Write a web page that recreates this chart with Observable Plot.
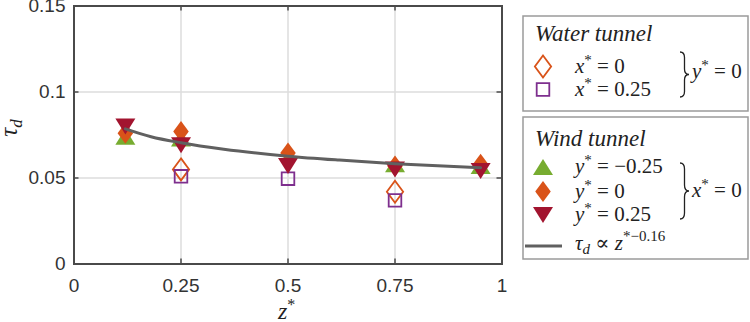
<!DOCTYPE html>
<html>
<head>
<meta charset="utf-8">
<script src="https://cdn.jsdelivr.net/npm/d3@7"></script>
<script src="https://cdn.jsdelivr.net/npm/@observablehq/plot@0.6"></script>
<style>
  html, body { margin: 0; padding: 0; background: #fff; }
  #wrap { position: relative; width: 750px; height: 322px; overflow: hidden; background: #fff; }
  #wrap > svg { position: absolute; left: 0; top: 0; }
  #wrap text.m { font-family: "Liberation Serif", "Times New Roman", "DejaVu Serif", serif !important; }
</style>
</head>
<body>
<div id="wrap"></div>
<script>
// ---- data ----
const xTicks = [0, 0.25, 0.5, 0.75, 1];
const yTicks = [0, 0.05, 0.1, 0.15];

// Water tunnel, y* = 0
const waterX0Z = [0.25, 0.75];
const waterX0Tau = [0.055, 0.042];
const waterX025Z = [0.25, 0.5, 0.75];
const waterX025Tau = [0.051, 0.0496, 0.037];

// Wind tunnel, x* = 0
const windYm025Z = [0.12, 0.25, 0.75, 0.95];
const windYm025Tau = [0.074, 0.073, 0.058, 0.057];
const windY0Z = [0.12, 0.25, 0.5, 0.75, 0.95];
const windY0Tau = [0.076, 0.077, 0.0645, 0.057, 0.058];
const windY025Z = [0.12, 0.25, 0.5, 0.75, 0.95];
const windY025Tau = [0.080, 0.069, 0.057, 0.055, 0.054];

// Fit curve tau_d ∝ z*^-0.16
const fitZ = [0.12, 0.18, 0.25, 0.35, 0.5, 0.62, 0.75, 0.85, 0.95];
const fitTau = [0.0786, 0.0740, 0.0705, 0.0667, 0.0627, 0.0604, 0.0583, 0.0571, 0.0560];

const colors = { green: "#77AC30", orange: "#D95319", red: "#A2142F", purple: "#7E2F8E", fit: "#606060" };

// ---- marker shapes ----
const rad = s => Math.sqrt(s / Math.PI);
const triUp = { draw(c, s) { const r = rad(s); c.moveTo(0, -0.8 * r); c.lineTo(r, 0.8 * r); c.lineTo(-r, 0.8 * r); c.closePath(); } };
const triDown = { draw(c, s) { const r = rad(s); c.moveTo(0, 0.8 * r); c.lineTo(r, -0.8 * r); c.lineTo(-r, -0.8 * r); c.closePath(); } };
const diamond = { draw(c, s) { const r = rad(s); c.moveTo(0, -r); c.lineTo(0.74 * r, 0); c.lineTo(0, r); c.lineTo(-0.74 * r, 0); c.closePath(); } };
const square = { draw(c, s) { const r = rad(s); const h = 0.6 * r; c.moveTo(-h, -h); c.lineTo(h, -h); c.lineTo(h, h); c.lineTo(-h, h); c.closePath(); } };

const pts = (zs, ts) => zs.map((z, i) => ({ z, tau: ts[i] }));

const W = 750, H = 322;
const mL = 73.5, mR = 248.5, mT = 5.5, mB = 58.5;
const innerW = W - mL - mR, innerH = H - mT - mB;
const axisColor = "#4a4a4a";
const gridColor = "#dddddd";

const chart = Plot.plot({
  width: W,
  height: H,
  marginLeft: mL,
  marginRight: mR,
  marginTop: mT,
  marginBottom: mB,
  style: { fontFamily: "Liberation Sans, Arial, sans-serif", fontSize: "19px", color: "#333", background: "#fff" },
  x: { domain: [0, 1] },
  y: { domain: [0, 0.15] },
  marks: [
    Plot.gridX([0.25, 0.5, 0.75], { stroke: gridColor, strokeOpacity: 1, strokeWidth: 1.5 }),
    Plot.gridY([0.05, 0.1], { stroke: gridColor, strokeOpacity: 1, strokeWidth: 1.5 }),
    Plot.axisX({ ticks: xTicks, tickSize: 0, tickPadding: 14.5, tickFormat: d => String(d), label: null, fontSize: 19, fill: "#333" }),
    Plot.axisY({ ticks: yTicks, tickSize: 0, tickPadding: 8.5, tickFormat: d => String(d), label: null, fontSize: 19, fill: "#333" }),
    // inward ticks on all four sides
    Plot.tickX(xTicks, { x: d => d, insetTop: innerH - 5, stroke: axisColor, strokeWidth: 1.5 }),
    Plot.tickX(xTicks, { x: d => d, insetBottom: innerH - 5, stroke: axisColor, strokeWidth: 1.5 }),
    Plot.tickY(yTicks, { y: d => d, insetRight: innerW - 5, stroke: axisColor, strokeWidth: 1.5 }),
    Plot.tickY(yTicks, { y: d => d, insetLeft: innerW - 5, stroke: axisColor, strokeWidth: 1.5 }),
    // data
    Plot.dot(pts(waterX0Z, waterX0Tau), { x: "z", y: "tau", symbol: diamond, r: 11, fill: "none", stroke: colors.orange, strokeWidth: 1.8 }),
    Plot.dot(pts(waterX025Z, waterX025Tau), { x: "z", y: "tau", symbol: square, r: 10.5, fill: "none", stroke: colors.purple, strokeWidth: 1.8 }),
    Plot.dot(pts(windYm025Z, windYm025Tau), { x: "z", y: "tau", symbol: triUp, r: 10, fill: colors.green, stroke: "none" }),
    Plot.dot(pts(windY0Z, windY0Tau), { x: "z", y: "tau", symbol: diamond, r: 10.5, fill: colors.orange, stroke: "none" }),
    Plot.dot(pts(windY025Z, windY025Tau), { x: "z", y: "tau", symbol: triDown, r: 10, fill: colors.red, stroke: "none" }),
    Plot.line(pts(fitZ, fitTau), { x: "z", y: "tau", stroke: colors.fit, strokeWidth: 3, curve: "monotone-x" }),
    Plot.frame({ stroke: axisColor, strokeWidth: 2 })
  ]
});
document.getElementById("wrap").appendChild(chart);

// ---- overlay: axis labels and legend ----
const ov = d3.select("#wrap").append("svg").attr("width", W).attr("height", H)
  .attr("xmlns", "http://www.w3.org/2000/svg");

function mtext(x, y, size) {
  return ov.append("text").attr("class", "m").attr("x", x).attr("y", y)
    .attr("font-size", size).attr("fill", "#222");
}

// axis labels
const yl = ov.append("text").attr("class", "m").attr("fill", "#222").attr("font-size", 25)
  .attr("font-style", "italic").attr("text-anchor", "middle").attr("transform", "translate(17,128) rotate(-90)");
yl.append("tspan").text("τ");
yl.append("tspan").attr("font-size", 17).attr("dy", 5).text("d");

const xl = mtext(278, 319, 24);
xl.append("tspan").attr("font-style", "italic").text("z");
xl.append("tspan").attr("font-size", 16).attr("dy", -9).text("*");

// legend boxes
ov.append("rect").attr("x", 523).attr("y", 16).attr("width", 225).attr("height", 95)
  .attr("fill", "#fff").attr("stroke", "#9a9a9a").attr("stroke-width", 1.5);
ov.append("rect").attr("x", 523).attr("y", 117).attr("width", 225).attr("height", 142)
  .attr("fill", "#fff").attr("stroke", "#9a9a9a").attr("stroke-width", 1.5);

function title(x, y, s) {
  mtext(x, y, 23).attr("font-style", "italic").text(s);
}
function eq(x, y, v, rhs) {
  const t = mtext(x, y, 21);
  t.append("tspan").attr("font-style", "italic").text(v);
  t.append("tspan").attr("font-size", 15).attr("dy", -8).text("*");
  t.append("tspan").attr("dy", 8).text(" = " + rhs);
}
function marker(sym, x, y, r, fill, stroke) {
  const p = d3.path();
  sym.draw(p, r * r * Math.PI);
  ov.append("path").attr("d", p.toString()).attr("transform", `translate(${x},${y})`)
    .attr("fill", fill).attr("stroke", stroke).attr("stroke-width", stroke === "none" ? 0 : 1.8);
}
function brace(x, y1, y2, w) {
  const ym = (y1 + y2) / 2, q = Math.min(6, (y2 - y1) * 0.12);
  const m = x + w * 0.5;
  const d = `M${x},${y1} Q${m},${y1} ${m},${y1 + q} L${m},${ym - q} Q${m},${ym} ${x + w},${ym} Q${m},${ym} ${m},${ym + q} L${m},${y2 - q} Q${m},${y2} ${x},${y2}`;
  ov.append("path").attr("d", d).attr("fill", "none").attr("stroke", "#222").attr("stroke-width", 1.3);
}

// Water tunnel box
title(535, 41, "Water tunnel");
marker(diamond, 543, 66.5, 11, "none", colors.orange);
marker(square, 543, 89.5, 10.5, "none", colors.purple);
eq(575, 72.5, "x", "0");
eq(575, 95.5, "x", "0.25");
brace(680, 52, 97, 9);
eq(692, 77.5, "y", "0");

// Wind tunnel box
title(535, 146, "Wind tunnel");
marker(triUp, 543, 167, 10, colors.green, "none");
marker(diamond, 543, 191.5, 10.5, colors.orange, "none");
marker(triDown, 543, 215, 10, colors.red, "none");
eq(575, 173, "y", "\u22120.25");
eq(575, 197.5, "y", "0");
eq(575, 221, "y", "0.25");
brace(680, 163, 219, 9);
eq(692, 196.5, "x", "0");

ov.append("line").attr("x1", 525).attr("x2", 562).attr("y1", 246).attr("y2", 246)
  .attr("stroke", colors.fit).attr("stroke-width", 3);
const ft = mtext(575, 250, 21);
ft.append("tspan").attr("font-style", "italic").text("τ");
ft.append("tspan").attr("font-style", "italic").attr("font-size", 15).attr("dy", 4).text("d");
ft.append("tspan").attr("dy", -4).text(" \u221D ");
ft.append("tspan").attr("font-style", "italic").text("z");
ft.append("tspan").attr("font-size", 15).attr("dy", -9).text("*\u22120.16");
</script>
</body>
</html>
